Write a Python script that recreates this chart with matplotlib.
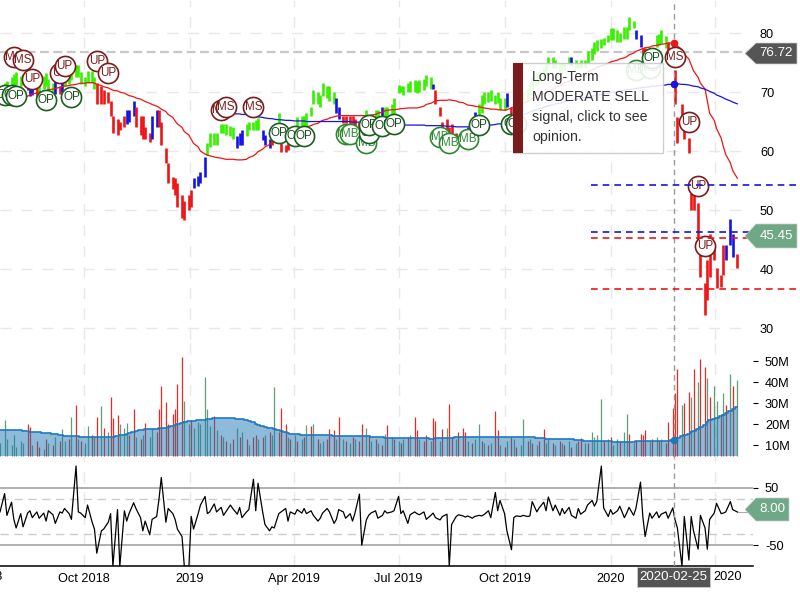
import matplotlib
matplotlib.use("Agg")
import matplotlib.pyplot as plt
from matplotlib.patches import Polygon, Rectangle
from matplotlib.transforms import Affine2D
import pandas as pd

plt.rcParams['font.family'] = ['Liberation Sans', 'DejaVu Sans']
plt.rcParams['axes.unicode_minus'] = False

# price, one bar per two sessions
highs = [71, 71.5, 71.8, 72.5, 73, 73.4, 72.8, 73, 72, 71,
         71.5, 71, 71.5, 72.8, 73.2, 72.2, 71.6, 71.8, 71, 71.5,
         73, 74, 74.4, 74.6, 74.6, 73.4, 72.6, 73.5, 73.6, 72.5,
         71.5, 71, 70.3, 70, 68.4, 66, 65.5, 65, 66, 67,
         67, 68.5, 67.5, 66, 66, 64, 63, 66, 67, 67,
         65, 60.5, 58, 55.6, 55.5, 54.5, 52.5, 51.5, 52.5, 53.4,
         55.5, 55.7, 56.5, 59, 61.4, 63, 63, 63, 64.5, 64.5,
         64.5, 64.2, 64, 62.5, 63, 63.5, 64.5, 65, 65, 65.3,
         65.6, 63.6, 62.8, 62, 63, 64, 66.5, 61.3, 61, 61.5,
         62, 63, 65.8, 66, 66, 66.5, 67.5, 70.3, 70, 69.5,
         71.5, 71, 71, 70, 69, 67.5, 66, 66, 66, 66,
         65.5, 65, 65, 67, 65.5, 66, 67, 67, 67.5, 67.5,
         67.5, 68, 69, 71.2, 71, 71, 71.6, 71.8, 72, 71.8,
         72, 72.2, 72.9, 72.6, 71.3, 70.3, 67.5, 65, 65.5, 64,
         64.5, 63, 62.5, 63, 63.5, 64, 65, 66.7, 68, 69.5,
         70, 70, 70.3, 69.5, 70, 69, 69, 69.8, 67.5, 68.5,
         68, 68, 70, 70.5, 71.5, 72.5, 73, 73.5, 74, 75,
         76, 76, 75.5, 75, 75, 75, 76, 76, 75.5, 75,
         75.5, 75.5, 77, 77.5, 78.5, 78.8, 79, 79.2, 79.7, 80.8,
         80.8, 80.5, 80, 81, 81, 82.8, 82, 80.5, 79.6, 77.5,
         77.5, 77, 77, 79.7, 79.8, 80.5, 79.5, 78.5, 78.3, 73.7,
         65.8, 68, 65, 62.2, 52.9, 52.5, 51.2, 42.7, 37.6, 41.5,
         46, 44.4, 40.2, 39, 44, 44, 48.5, 46, 42.5]
lows = [69.5, 70, 70.2, 70.5, 71, 71.2, 71, 71.4, 70.4, 69.4,
        69.5, 69, 69.5, 70.5, 71, 70, 70, 69.7, 69.6, 70,
        71, 71.3, 72, 72.5, 72.6, 71.4, 71, 71.6, 71.5, 70.5,
        68, 68, 68, 68.2, 66, 63, 62.8, 63.5, 64, 64.5,
        65, 66, 64, 62.8, 62, 62, 61.5, 62, 64, 64,
        61, 58, 54.5, 53.5, 52.5, 50.5, 48.6, 48.3, 50, 50.5,
        53.7, 54, 54.5, 55.6, 59.3, 60.7, 61, 61, 63, 63,
        62.8, 62.6, 62, 60.5, 61, 61, 62.5, 63.5, 63.5, 63.5,
        63.6, 61.9, 61, 60.5, 61, 62, 63.5, 59.8, 59.8, 60.2,
        61, 61.5, 63, 63.5, 63.5, 64, 66, 68, 68, 67.5,
        69.3, 69, 68.5, 68, 66.5, 65.5, 64.7, 64.7, 64.5, 64.5,
        64.3, 63, 63.5, 64, 63.5, 64, 65, 65, 65.5, 65.5,
        66, 66, 66, 69.8, 70, 69.5, 70, 70, 70, 69.8,
        70, 70.4, 71, 70.5, 70.5, 68, 66, 62.8, 63, 62,
        62.5, 61.6, 61.5, 62, 62, 62, 63, 65, 65.5, 66.5,
        68, 68.3, 68.5, 68, 68.2, 67, 67, 67.5, 65.5, 66,
        66, 66.5, 68, 68.5, 69.5, 70.5, 71, 71.5, 72, 73,
        74.5, 74, 74, 73.5, 73.5, 73.7, 74.5, 74.5, 74, 74,
        74, 74, 75, 75.5, 76.5, 77, 77.5, 78, 78.5, 78.8,
        78.8, 78.5, 78.5, 79, 79, 80.5, 80.8, 79, 77.6, 76.3,
        75, 75.5, 76, 77.6, 78, 78.3, 77.5, 77, 76.5, 68,
        61.4, 66, 62, 59.7, 50, 50, 43.7, 38.7, 32.2, 34.8,
        38.6, 41.5, 36.8, 37, 39, 41.5, 44, 42, 40.2]
# trend state of the bars: green, blue, red
trend_runs = [('g', 8), ('b', 3), ('r', 1), ('g', 5), ('b', 1), ('r', 1), ('b', 1), ('g', 10),
              ('r', 9), ('b', 3), ('r', 5), ('b', 2), ('r', 11), ('b', 4), ('g', 9), ('b', 3),
              ('g', 5), ('b', 3), ('r', 1), ('g', 2), ('r', 5), ('g', 12), ('b', 2), ('r', 6),
              ('g', 6), ('b', 1), ('g', 15), ('b', 1), ('r', 10), ('b', 3), ('g', 9), ('b', 1),
              ('r', 1), ('b', 2), ('r', 1), ('g', 15), ('b', 1), ('g', 19), ('b', 2), ('r', 3),
              ('g', 5), ('r', 18), ('b', 3), ('r', 1)]

ma_short = [68.1, 68.2, 68.3, 68.4, 68.6, 68.7, 68.9, 69.1, 69.3, 69.5,
            69.7, 69.8, 70, 70.1, 70.2, 70.4, 70.5, 70.6, 70.8, 70.9,
            71, 71.1, 71.2, 71.3, 71.4, 71.5, 71.5, 71.6, 71.6, 71.5,
            71.3, 71.1, 70.9, 70.7, 70.5, 70.3, 70.2, 70, 69.8, 69.6,
            69.4, 69.2, 69, 68.8, 68.6, 68.4, 68.1, 67.9, 67.6, 67.4,
            67.1, 66.7, 66.2, 65.7, 65.1, 64.6, 64, 63.3, 62.7, 62,
            61.3, 60.7, 60, 59.5, 59.3, 59.2, 59, 58.9, 58.8, 58.7,
            58.6, 58.6, 58.6, 58.5, 58.5, 58.5, 58.6, 58.9, 59.2, 59.5,
            59.9, 60.3, 60.7, 61.1, 61.5, 61.8, 62, 62.2, 62.4, 62.7,
            63, 63.2, 63.4, 63.6, 63.9, 64.1, 64.3, 64.5, 64.7, 65,
            65.2, 65.4, 65.6, 65.8, 65.9, 66, 66, 66, 66, 66,
            66, 66, 66, 66, 66, 66.1, 66.2, 66.4, 66.6, 66.8,
            66.9, 67, 67, 67.1, 67.2, 67.2, 67.3, 67.3, 67.3, 67.3,
            67.4, 67.6, 67.9, 68.1, 68.3, 68.5, 68.6, 68.6, 68.6, 68.7,
            68.6, 68.5, 68.3, 68.2, 68, 67.8, 67.7, 67.6, 67.5, 67.4,
            67.3, 67.2, 67.1, 67.1, 67, 67, 66.9, 67, 67.3, 67.5,
            67.6, 67.9, 68.1, 68.4, 68.6, 68.9, 69.2, 69.4, 69.7, 70,
            70.2, 70.5, 70.8, 71, 71.3, 71.6, 71.8, 72.1, 72.3, 72.6,
            72.9, 73.1, 73.4, 73.7, 73.9, 74.2, 74.4, 74.6, 74.9, 75.1,
            75.2, 75.4, 75.6, 75.8, 76, 76.3, 76.6, 76.9, 77.2, 77.4,
            77.5, 77.6, 77.8, 77.9, 78, 78.1, 78.2, 78.3, 78.3, 78.3,
            77.8, 77.2, 76.4, 75.6, 74.6, 73.6, 72.5, 71.5, 70.5, 68.5,
            66.4, 65.2, 63.8, 62.2, 60.7, 59.4, 58, 56.7, 55.4]
# the long average only starts at bar 72
ma_long_start = 72
ma_long = [66.3, 66.3, 66.3, 66.2, 66.2, 66.1, 66, 65.9,
           65.8, 65.7, 65.6, 65.5, 65.5, 65.4, 65.3, 65.3, 65.2, 65.2,
           65.2, 65.1, 65.1, 65.1, 65.1, 65, 65, 65, 65, 65,
           65, 65, 65, 65, 65, 65, 65, 65, 65, 64.9,
           64.9, 64.9, 64.8, 64.8, 64.8, 64.7, 64.7, 64.7, 64.6, 64.6,
           64.5, 64.5, 64.4, 64.4, 64.4, 64.4, 64.4, 64.4, 64.4, 64.4,
           64.4, 64.4, 64.3, 64.3, 64.3, 64.3, 64.3, 64.3, 64.2, 64.2,
           64.2, 64.1, 64.1, 64.1, 64.1, 64.1, 64.1, 64.2, 64.2, 64.3,
           64.3, 64.4, 64.4, 64.5, 64.6, 64.6, 64.7, 64.9, 65.2, 65.5,
           65.8, 66, 66.2, 66.4, 66.6, 66.8, 67, 67.2, 67.4, 67.5,
           67.7, 67.8, 68, 68.1, 68.2, 68.4, 68.5, 68.6, 68.8, 68.9,
           69, 69.1, 69.2, 69.3, 69.4, 69.5, 69.6, 69.7, 69.8, 69.9,
           70, 70.1, 70.2, 70.3, 70.4, 70.4, 70.5, 70.6, 70.7, 70.8,
           70.8, 70.9, 71, 71, 71.1, 71.1, 71.2, 71.3, 71.3, 71.4,
           71.4, 71.3, 71.3, 71.2, 71.1, 71, 70.9, 70.7, 70.5, 70.3,
           70.1, 69.8, 69.5, 69.2, 69, 68.8, 68.5, 68.3, 68]

# volume in millions
volume = [11, 22, 13, 10, 15, 9, 12, 11, 20, 18.8,
          10, 12, 9, 8, 13, 11, 10, 14, 12, 17.5,
          12, 13, 23.5, 29, 13, 12, 11, 19, 15, 14,
          23.5, 28.8, 18, 16, 32.7, 23, 24.5, 20, 18, 20.5,
          15, 27, 14, 13, 15, 20.7, 14, 18, 16, 27,
          38, 30.7, 20, 25, 27, 39, 52, 31, 20, 22,
          18, 21, 20, 42.6, 27, 19, 24, 17, 15, 14,
          12, 11, 13, 18, 14, 16, 13, 10, 14, 15,
          13, 14, 15, 16, 15, 37.8, 16, 27.5, 20, 14,
          13, 15, 12, 13, 14, 19.5, 19, 20, 13, 11,
          12, 13, 17.5, 17, 13, 23.5, 13, 12, 11, 14,
          13, 12, 20, 18, 15, 12, 13, 11, 10, 15.5,
          19.5, 14, 13, 12, 11, 13, 14, 15, 23.2, 17,
          13, 12, 15, 12, 22.7, 21.5, 12, 17.5, 18, 29.4,
          14, 13, 16, 18, 16, 12, 11, 13, 19.9, 12,
          11, 10, 11, 26, 17, 10, 9, 12, 14, 13,
          9, 10, 22.3, 12, 13, 11, 10, 12, 17.5, 11,
          13, 11, 10, 12, 11, 10, 12, 9, 11, 12,
          13.5, 11, 11, 16, 14, 15, 31.8, 12, 13, 14,
          10, 13, 12, 16, 25, 15.5, 11, 12, 15.5, 15,
          17, 12, 13, 14, 12, 13, 11, 21, 27.5, 34.6,
          46, 29, 30, 35.5, 33, 46, 40, 51, 47, 42,
          33, 38, 31, 25, 35, 29, 43.7, 38, 41]
volume_dir = ("ggggggggrr" "grrgrgrgrg" "grgrgrggrg" "rgrgrrrggg" "rrgrgrggrr"
              "rrrrrrrggr" "ggggggrgrg" "rgrgrgrgrr" "grgrggrrrg" "rgrgrgrgrg"
              "grrrgrgrgr" "grrgrgrgrg" "rgrgrgrgrr" "grrgrrgrgr" "rgrrrgrggr"
              "grgrrgrgrg" "rggrgrgrrg" "grgrgrgrgr" "rgrggggrgr" "ggrggrgrrr"
              "rgrgrgrrrr" "rgrrgrgrrg" "rggrgrgrg")
volume_ma = [17.2, 17.2, 17.2, 17.2, 17.2, 17.2, 17.2, 16.8, 16.5, 16.3,
             16.2, 16.1, 16, 15.9, 15.8, 15.6, 15.4, 15.2, 15, 14.8,
             14.5, 14.3, 14.3, 14.3, 14.1, 14, 14, 14, 14, 13.9,
             13.8, 13.7, 13.7, 13.8, 13.9, 14, 14.3, 14.7, 15, 15.3,
             15.9, 16.3, 16.6, 17, 17.3, 17.5, 17.6, 17.7, 17.8, 17.9,
             18, 18.2, 18.6, 19, 19.5, 20, 20.5, 21, 21.4, 21.5,
             21.7, 21.9, 22, 22, 22.3, 22.6, 22.9, 23, 23, 23,
             23, 22.9, 22.7, 22.5, 22.3, 22.2, 22, 21.5, 20.8, 20,
             19.7, 19.3, 18.8, 18.3, 17.9, 17.5, 17.2, 16.8, 16.3, 15.9,
             15.5, 15.3, 15.1, 15, 14.9, 14.8, 14.8, 14.7, 14.7, 14.7,
             14.6, 14.6, 14.6, 14.5, 14.5, 14.5, 14.5, 14.4, 14.4, 14.4,
             14.3, 14.3, 14.2, 14.2, 14.1, 14, 14, 14, 13.8, 13.5,
             13.4, 13.3, 13.3, 13.2, 13.2, 13.2, 13.2, 13.2, 13.2, 13.2,
             13.2, 13.2, 13.2, 13.1, 13.1, 13.3, 13.3, 13.3, 13.3, 13.5,
             13.6, 13.7, 13.9, 14, 14, 14, 14, 14, 14, 14,
             14, 14, 14, 14, 14, 14, 14, 14, 14, 14,
             14, 14, 14, 13.9, 13.8, 13.7, 13.6, 13.4, 13.2, 13.1,
             13.1, 13.1, 13, 13, 13, 12.9, 12.9, 12.8, 12.6, 12.4,
             12.2, 12, 12, 12, 12, 12, 12, 12, 12, 11.8,
             11.7, 11.6, 11.6, 11.6, 11.6, 11.6, 11.7, 11.8, 11.9, 12,
             12, 12, 12, 12, 12, 12, 12, 12, 12.2, 13,
             13.6, 14.2, 14.8, 15.5, 16, 16.8, 17.5, 18.4, 19.6, 20.8,
             22, 22.6, 23, 23.8, 24.5, 25.2, 26, 27, 28.3]

# lower panel oscillator
oscillator = [8, 40, 2, 25, -5, -20, 5, -18, 6, 10,
              -2, 8, -3, 6, -8, 10, 3, -12, 8, 6,
              14, 5, -5, 88, 8, 6, -2, 20, -10, -22,
              -64, -25, -22, -10, 5, -87, 12, -87, 10, -8,
              5, 24, 14, -2, -25, -8, -32, -5, 0, 30,
              68, -10, 14, 5, -5, -22, -35, -87, -87, 0,
              -22, 5, 20, 35, 5, 8, 22, 8, 16, 2,
              8, 20, 14, 4, 16, -2, 8, 12, 65, 10,
              58, 8, -14, -25, -18, -20, 5, 8, 14, -8,
              8, 4, 12, 6, 14, 5, 10, 2, -8, -3,
              6, 14, 8, -12, -5, 12, 8, -3, 5, -8,
              5, 39, -50, -6, 2, 6, 10, -3, 2, 10,
              6, 8, 10, 35, 5, 10, -12, 3, 8, 5,
              3, 8, -5, 2, 6, -2, -6, 0, 4, -87,
              -14, 0, 3, 1, -1, 1, -3, 0, 2, 1,
              3, 10, -2, 42, 10, 28, 5, -25, -58, -2,
              1, 0, 2, 0, 1, 26, 8, 15, 25, 10,
              34, 10, 20, 2, 14, 5, 16, 2, -3, 14,
              4, 10, 20, 28, 18, 26, 88, 15, 0, 12,
              4, 10, 18, -2, 6, 16, 2, 14, 60, 0,
              -35, 6, -3, 8, -2, 4, 8, -3, 15, -6,
              -20, -87, 0, -76, 0, -25, -57, 2, -20, -57,
              -5, 6, 23, 5, 6, 8, 26, 12, 8]

# opinion markers: bar number, price, label
event_bar = [1, 3, 5, 4, 7, 10, 14, 18, 20, 22, 30, 33, 68, 70, 78, 86, 91, 94, 107, 108, 113, 114, 114,
             118, 122, 136, 139, 145, 148, 158, 160, 197, 201, 202, 209, 213, 216, 218]
event_price = [69.5, 69.5, 69.3, 75.9, 75.4, 72.2, 68.6, 73.2, 74.4, 69.2, 75.3, 73.2, 67, 67.5, 67.5, 63.1,
               62.5, 62.5, 62.9, 62.9, 61.4, 63, 64.4, 64.2, 64.6, 62.4, 61.4, 62, 64.4, 64.6, 64.6, 73.7,
               74.1, 75.8, 75.9, 64.9, 54.1, 43.9]
event_label = ['OP', 'OP', 'OP', 'MS', 'MS', 'UP', 'OP', 'UP', 'UP', 'OP', 'UP', 'UP', 'MS', 'MS', 'MS', 'OP',
               'OP', 'OP', 'MB', 'MB', 'MB', 'OP', 'OP', 'OP', 'OP', 'MB', 'MB', 'MB', 'OP', 'OP', 'OP', 'MB',
               'MB', 'OP', 'MS', 'UP', 'UP', 'UP']

# pivot levels
r2_level, r1_level, s1_level, s2_level = 54.2, 46.3, 45.3, 36.6
last_close_mark = 76.72

price_ticks = [80, 70, 60, 50, 40, 30]
volume_ticks = [10, 20, 30, 40, 50]
osc_ticks = [50, -50]
month_ticks = ['2018-10-01', '2019-01-01', '2019-04-01', '2019-07-01', '2019-10-01', '2020-01-01', '2020-04-01']
month_labels = ['Oct 2018', '2019', 'Apr 2019', 'Jul 2019', 'Oct 2019', '2020', '']
cross_date = pd.Timestamp('2020-02-25')

trend = ''.join(c * n for c, n in trend_runs)
dates = pd.date_range('2018-07-20', periods=len(highs), freq='2B')
bar_colors = {'g': '#38f000', 'b': '#1414e6', 'r': '#f01414'}
vol_colors = {'g': '#5f9e78', 'r': '#ea2a22'}
grid_color = '#e8e8e8'
dash = (0, (8, 7))

W, H = 800, 600
fig = plt.figure(figsize=(8, 6), dpi=100)
# pixel coordinates with the origin on top, as in the screenshot
px = Affine2D().scale(1, -1).translate(0, H)


def panel(top, bottom):
    a = fig.add_axes([0, 1 - bottom / H, 753 / W, (bottom - top) / H])
    for s in a.spines.values():
        s.set_visible(False)
    a.set_xlim(pd.Timestamp('2018-07-20'), pd.Timestamp('2018-07-20') + pd.Timedelta(days=753 / 1.152))
    a.set_xticks(pd.to_datetime(month_ticks))
    a.grid(axis='x', color=grid_color, lw=1, ls=dash)
    a.set_axisbelow(True)
    a.tick_params(axis='x', length=0, labelbottom=False)
    a.yaxis.tick_right()
    a.axvline(cross_date, color='#999999', lw=1, ls=(0, (4, 3)), zorder=6)
    return a


def tag(x_tip, x_end, y_top, y_bot, text, color, size=9.6):
    mid = (y_top + y_bot) / 2
    pts = [(x_tip, mid), (x_tip + 11, y_top), (x_end, y_top), (x_end, y_bot), (x_tip + 11, y_bot)]
    ax.add_patch(Polygon(pts, closed=True, fc=color, ec='#cccccc', lw=0.5, transform=px, clip_on=False, zorder=20))
    ax.text((x_tip + 11 + x_end) / 2, mid, text, color='white', fontsize=size, ha='center', va='center',
            transform=px, clip_on=False, zorder=21)


# price panel
ax = panel(0, 340)
ax.set_ylim(85.6 - 340 / 5.9, 85.6)
ax.set_yticks(price_ticks)
ax.tick_params(axis='y', length=0, pad=5, labelsize=9.2)
ax.hlines(price_ticks, dates[0], dates[0] + pd.Timedelta(days=645), color=grid_color, lw=1, ls=dash, zorder=0)
ax.hlines(last_close_mark, dates[0], dates[0] + pd.Timedelta(days=650), color='#c8c8c8', lw=1.6, ls=(0, (4, 2)), zorder=1)
ax.vlines(dates, lows, highs, colors=[bar_colors[c] for c in trend], lw=1.9, zorder=2)
ax.plot(dates, ma_short, color='#f01414', lw=0.9, zorder=3)
ax.plot(dates[ma_long_start:], ma_long, color='#1414e6', lw=0.9, zorder=3)
ax.plot([cross_date], [ma_short[208]], 'o', color='#f01414', ms=4.5, zorder=7)
ax.plot([cross_date], [ma_long[208 - ma_long_start]], 'o', color='#1414e6', ms=4.5, zorder=7)

event_style = {'OP': ('#1b5e20', '#1b4d20'), 'MB': ('#2a8a2a', '#2e8b3a'), 'MS': ('#7b1c1c', '#7b1c1c'), 'UP': ('#7b1c1c', '#7b1c1c')}
for i, (bar, price, label) in enumerate(zip(event_bar, event_price, event_label)):
    edge, txt = event_style[label]
    ax.plot([dates[bar]], [price], 'o', ms=14.5, mfc='white', mec=edge, mew=1.2, zorder=8 + i * 0.01, clip_on=False)
    ax.text(dates[bar], price, label, color=txt, fontsize=8.4, ha='center', va='center', zorder=8 + i * 0.01 + 0.005)

# pivot lines and their names
x0, x1 = pd.Timestamp('2019-12-15'), pd.Timestamp('2020-06-28')
for level, col, name in [(r2_level, '#1414e6', 'R2'), (r1_level, '#1414e6', 'R1'),
                         (s1_level, '#f01414', 'S1'), (s2_level, '#f01414', 'S2')]:
    ax.plot([x0, x1], [level, level], color=col, lw=1.2, ls=(0, (4, 3)), zorder=9, clip_on=False)
    ax.annotate(name, xy=(x1, level), xytext=(8, 0), textcoords='offset pixels', color=col, fontsize=9,
                fontweight='bold', va='center', ha='left', annotation_clip=False, zorder=25)

# tags on the right
tag(745, 797, 43, 64, '76.72', '#555555')
tag(745, 797, 224, 248, '45.45', '#6fa886')

# tooltip
ax.add_patch(Rectangle((513, 63), 150, 90, fc='white', ec='#c8c8c8', lw=1, alpha=0.88, transform=px, clip_on=False, zorder=15))
ax.add_patch(Rectangle((513, 63), 10, 90, fc='#7b1c1c', ec='none', transform=px, clip_on=False, zorder=16))
for y, line in zip([77, 97, 117, 137], ['Long-Term', 'MODERATE SELL', 'signal, click to see', 'opinion.']):
    ax.text(532, y, line, color='#333333', fontsize=10.2, va='center', ha='left', transform=px, zorder=17)

# volume panel
ax2 = panel(340, 458)
ax2.set_ylim(4.8 - 2 / 2.1, 4.8 + 116 / 2.1)
ax2.set_yticks(volume_ticks)
ax2.set_yticklabels([f'{v}M' for v in volume_ticks])
ax2.tick_params(axis='y', length=3.6, width=0.8, pad=5, labelsize=9.2)
ax2.vlines(dates, 4.8, volume, colors=[vol_colors[c] for c in volume_dir], lw=0.9, zorder=2)
ax2.fill_between(dates, 4.8, volume_ma, color='#1f78b4', alpha=0.5, lw=0, step='mid', zorder=3)
ax2.step(dates, volume_ma, where='mid', color='#1f78c0', lw=1.2, zorder=4)
ax2.plot([cross_date], [volume_ma[208]], 'o', color='#1f78b4', ms=4.5, zorder=7)

# oscillator panel
ax3 = panel(458, 566)
ax3.set_ylim((516.5 - 566) / 0.573, (516.5 - 458) / 0.573)
ax3.set_yticks(osc_ticks)
ax3.tick_params(axis='y', length=3.6, width=0.8, pad=5, labelsize=9.2)
ax3.axhline(50, color='#aaaaaa', lw=1.3, zorder=1)
ax3.axhline(-50, color='#aaaaaa', lw=1.3, zorder=1)
ax3.axhline(30, color='#cccccc', lw=1, ls=(0, (6, 4)), zorder=1)
ax3.axhline(-30, color='#cccccc', lw=1, ls=(0, (6, 4)), zorder=1)
ax3.plot(dates, oscillator, color='black', lw=0.9, zorder=3)
ax3.plot([dates[-1], dates[-1] + pd.Timedelta(days=9)], [oscillator[-1], oscillator[-1]], color='#aaaaaa', lw=0.8, zorder=2)

# x axis along the bottom
ax3.spines['bottom'].set_visible(True)
ax3.spines['bottom'].set_linewidth(1.1)
ax3.tick_params(axis='x', labelbottom=True, labelsize=9.2, pad=5)
ax3.set_xticklabels(month_labels)
ax3.text(-22, 577, 'Jul 2018', fontsize=9.2, ha='center', va='center', transform=px, clip_on=False)
ax3.text(728, 577, '2020', fontsize=9.2, ha='center', va='center', transform=px, clip_on=False)
ax3.add_patch(Rectangle((637, 567), 73, 20, fc='#555555', ec='#cccccc', lw=0.6, transform=px, clip_on=False, zorder=20))
ax3.text(673.5, 577, '2020-02-25', color='white', fontsize=9.6, ha='center', va='center', transform=px, zorder=21)

ax = ax3
tag(745, 789, 498, 521, '8.00', '#6fa886')

fig.savefig('out.png', dpi=100)
